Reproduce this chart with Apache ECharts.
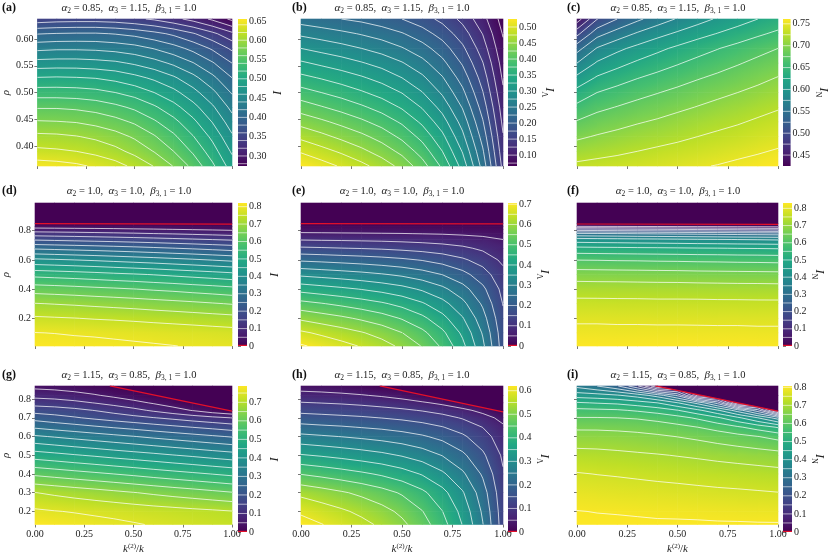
<!DOCTYPE html>
<html><head><meta charset="utf-8">
<script src="https://cdn.jsdelivr.net/npm/echarts@6/dist/echarts.min.js"></script>
<style>html,body{margin:0;padding:0;background:#fff}#c{width:830px;height:556px}</style>
</head><body><div id="c"></div>
<script>
// ---------- data ----------
const kFrac = [0, 0.1, 0.2, 0.3, 0.4, 0.5, 0.6, 0.7, 0.8, 0.9, 1.0];
const rhoTop = [0.3625, 0.39, 0.4175, 0.445, 0.4725, 0.5, 0.5275, 0.555, 0.5825, 0.61, 0.6375];
const rhoMid = [0.01, 0.1, 0.2, 0.3, 0.4, 0.5, 0.6, 0.68, 0.74, 0.78, 0.81, 0.83, 0.85, 0.99];
const rhoBot = [0.13, 0.2, 0.3, 0.4, 0.5, 0.6, 0.65, 0.7, 0.74, 0.78, 0.82, 0.87];

const IA = [
[0.650,0.648,0.644,0.637,0.628,0.615,0.599,0.579,0.554,0.524,0.490],
[0.625,0.623,0.620,0.614,0.606,0.594,0.579,0.560,0.537,0.509,0.477],
[0.605,0.604,0.601,0.596,0.588,0.577,0.562,0.544,0.521,0.495,0.463],
[0.582,0.581,0.579,0.574,0.567,0.557,0.543,0.526,0.505,0.479,0.449],
[0.558,0.558,0.556,0.552,0.545,0.536,0.523,0.507,0.487,0.463,0.434],
[0.530,0.530,0.529,0.526,0.520,0.512,0.500,0.486,0.467,0.445,0.418],
[0.501,0.502,0.501,0.499,0.494,0.486,0.476,0.463,0.446,0.425,0.400],
[0.468,0.469,0.469,0.467,0.464,0.457,0.448,0.436,0.421,0.402,0.380],
[0.435,0.437,0.437,0.436,0.433,0.428,0.419,0.408,0.394,0.377,0.356],
[0.399,0.401,0.402,0.402,0.399,0.394,0.386,0.376,0.362,0.345,0.325],
[0.347,0.350,0.351,0.351,0.349,0.344,0.337,0.326,0.313,0.296,0.275]];
const IB = [
[0.525,0.511,0.497,0.482,0.464,0.442,0.411,0.370,0.315,0.240,0.142],
[0.497,0.484,0.471,0.456,0.439,0.418,0.389,0.350,0.298,0.228,0.134],
[0.469,0.457,0.444,0.431,0.415,0.394,0.367,0.331,0.281,0.215,0.127],
[0.441,0.430,0.418,0.405,0.390,0.371,0.345,0.311,0.265,0.202,0.119],
[0.413,0.402,0.391,0.379,0.365,0.347,0.323,0.291,0.248,0.189,0.112],
[0.385,0.375,0.365,0.353,0.340,0.324,0.301,0.271,0.231,0.176,0.104],
[0.357,0.348,0.338,0.328,0.316,0.300,0.280,0.252,0.214,0.164,0.096],
[0.329,0.320,0.312,0.302,0.291,0.277,0.258,0.232,0.197,0.151,0.089],
[0.300,0.292,0.284,0.275,0.265,0.252,0.235,0.212,0.180,0.137,0.081],
[0.270,0.263,0.256,0.248,0.239,0.227,0.211,0.190,0.162,0.124,0.073],
[0.238,0.232,0.225,0.219,0.210,0.200,0.186,0.168,0.143,0.109,0.064]];
const IC = [
[0.730,0.733,0.735,0.738,0.741,0.744,0.748,0.751,0.755,0.758,0.762],
[0.713,0.717,0.721,0.725,0.729,0.733,0.736,0.740,0.744,0.748,0.752],
[0.696,0.702,0.707,0.712,0.716,0.720,0.725,0.729,0.733,0.738,0.742],
[0.677,0.686,0.692,0.698,0.703,0.709,0.714,0.719,0.723,0.728,0.733],
[0.656,0.669,0.676,0.683,0.689,0.695,0.701,0.707,0.712,0.718,0.723],
[0.634,0.650,0.659,0.667,0.674,0.681,0.688,0.694,0.700,0.706,0.712],
[0.606,0.628,0.639,0.649,0.657,0.665,0.673,0.680,0.687,0.694,0.701],
[0.575,0.603,0.617,0.629,0.639,0.648,0.657,0.665,0.673,0.681,0.688],
[0.540,0.577,0.594,0.607,0.619,0.630,0.640,0.649,0.658,0.667,0.675],
[0.493,0.541,0.561,0.578,0.592,0.604,0.616,0.626,0.636,0.646,0.655],
[0.436,0.499,0.525,0.545,0.562,0.577,0.590,0.603,0.614,0.625,0.635]];
const ID = [
[0.820,0.818,0.815,0.813,0.810,0.807,0.804,0.801,0.797,0.794,0.790],
[0.801,0.799,0.796,0.794,0.791,0.788,0.785,0.781,0.778,0.774,0.770],
[0.757,0.754,0.751,0.747,0.744,0.740,0.735,0.731,0.726,0.721,0.716],
[0.702,0.698,0.694,0.689,0.684,0.679,0.673,0.667,0.661,0.654,0.647],
[0.627,0.623,0.618,0.612,0.607,0.601,0.594,0.588,0.580,0.573,0.565],
[0.534,0.529,0.524,0.518,0.511,0.505,0.498,0.490,0.482,0.474,0.465],
[0.411,0.406,0.400,0.394,0.387,0.380,0.373,0.365,0.357,0.348,0.339],
[0.292,0.287,0.282,0.277,0.271,0.265,0.258,0.251,0.244,0.236,0.228],
[0.193,0.189,0.185,0.181,0.177,0.172,0.167,0.161,0.155,0.149,0.143],
[0.124,0.121,0.118,0.114,0.110,0.106,0.101,0.097,0.092,0.087,0.081],
[0.065,0.063,0.061,0.059,0.057,0.054,0.052,0.049,0.046,0.043,0.040],
[0.029,0.028,0.027,0.027,0.026,0.025,0.024,0.023,0.021,0.020,0.019],
[0,0,0,0,0,0,0,0,0,0,0],
[0,0,0,0,0,0,0,0,0,0,0]];
const IE = [
[0.706,0.687,0.667,0.646,0.621,0.589,0.547,0.491,0.414,0.311,0.175],
[0.659,0.641,0.623,0.604,0.581,0.551,0.513,0.461,0.390,0.295,0.170],
[0.591,0.575,0.560,0.542,0.522,0.496,0.462,0.416,0.354,0.270,0.160],
[0.516,0.503,0.489,0.474,0.457,0.435,0.406,0.367,0.314,0.242,0.148],
[0.432,0.421,0.410,0.398,0.384,0.367,0.343,0.312,0.269,0.211,0.135],
[0.340,0.332,0.324,0.315,0.304,0.291,0.273,0.249,0.216,0.173,0.115],
[0.242,0.237,0.231,0.225,0.218,0.209,0.197,0.180,0.158,0.129,0.090],
[0.158,0.155,0.151,0.148,0.144,0.138,0.131,0.122,0.109,0.091,0.068],
[0.096,0.094,0.093,0.091,0.089,0.086,0.082,0.077,0.071,0.062,0.050],
[0.056,0.055,0.054,0.053,0.052,0.051,0.049,0.047,0.043,0.039,0.033],
[0.031,0.031,0.030,0.030,0.029,0.029,0.028,0.027,0.025,0.023,0.020],
[0.015,0.014,0.014,0.014,0.014,0.013,0.013,0.013,0.012,0.011,0.009],
[0,0,0,0,0,0,0,0,0,0,0],
[0,0,0,0,0,0,0,0,0,0,0]];
const IF = [
[0.830,0.830,0.829,0.829,0.829,0.829,0.828,0.828,0.828,0.827,0.827],
[0.813,0.813,0.812,0.812,0.812,0.812,0.811,0.811,0.811,0.810,0.810],
[0.792,0.792,0.791,0.791,0.790,0.790,0.790,0.789,0.789,0.788,0.788],
[0.764,0.764,0.763,0.763,0.762,0.762,0.762,0.761,0.761,0.760,0.760],
[0.727,0.726,0.726,0.725,0.724,0.724,0.723,0.722,0.721,0.721,0.720],
[0.676,0.675,0.674,0.673,0.672,0.671,0.669,0.668,0.667,0.666,0.665],
[0.599,0.598,0.596,0.595,0.593,0.592,0.590,0.589,0.587,0.586,0.584],
[0.512,0.510,0.509,0.507,0.506,0.504,0.502,0.501,0.499,0.498,0.496],
[0.420,0.417,0.415,0.412,0.410,0.407,0.404,0.402,0.399,0.397,0.394],
[0.308,0.305,0.302,0.298,0.295,0.292,0.289,0.286,0.282,0.279,0.276],
[0.161,0.158,0.154,0.151,0.148,0.145,0.141,0.138,0.135,0.131,0.128],
[0.050,0.048,0.047,0.045,0.044,0.042,0.040,0.039,0.037,0.036,0.034],
[0,0,0,0,0,0,0,0,0,0,0],
[0,0,0,0,0,0,0,0,0,0,0]];
const IG = [
[0.788,0.781,0.774,0.768,0.761,0.754,0.747,0.740,0.734,0.727,0.720],
[0.758,0.752,0.747,0.741,0.736,0.730,0.724,0.719,0.713,0.708,0.702],
[0.701,0.691,0.681,0.672,0.662,0.652,0.642,0.632,0.623,0.613,0.603],
[0.590,0.580,0.570,0.560,0.550,0.540,0.529,0.519,0.509,0.499,0.489],
[0.475,0.465,0.454,0.444,0.433,0.423,0.413,0.402,0.392,0.381,0.371],
[0.357,0.346,0.335,0.324,0.313,0.302,0.290,0.279,0.268,0.257,0.246],
[0.293,0.281,0.270,0.258,0.246,0.235,0.223,0.211,0.199,0.188,0.176],
[0.231,0.218,0.205,0.191,0.178,0.165,0.152,0.139,0.125,0.112,0.099],
[0.179,0.173,0.163,0.149,0.132,0.114,0.093,0.071,0.047,0.021,0],
[0.129,0.123,0.113,0.099,0.083,0.065,0.045,0.023,0,0,0],
[0.083,0.078,0.068,0.055,0.039,0.022,0.003,0,0,0,0],
[0.035,0.030,0.022,0.011,0,0,0,0,0,0,0]];
const IH = [
[0.620,0.602,0.584,0.564,0.541,0.511,0.472,0.419,0.348,0.252,0.125],
[0.592,0.575,0.558,0.539,0.517,0.489,0.452,0.401,0.334,0.242,0.122],
[0.537,0.522,0.506,0.489,0.469,0.444,0.411,0.366,0.305,0.223,0.115],
[0.448,0.436,0.423,0.409,0.393,0.373,0.346,0.309,0.259,0.193,0.105],
[0.354,0.345,0.335,0.324,0.312,0.296,0.276,0.248,0.210,0.159,0.092],
[0.263,0.256,0.249,0.241,0.232,0.221,0.206,0.186,0.158,0.121,0.072],
[0.216,0.210,0.205,0.198,0.191,0.181,0.169,0.152,0.129,0.099,0.058],
[0.171,0.166,0.161,0.156,0.149,0.141,0.130,0.116,0.096,0.070,0.035],
[0.136,0.132,0.128,0.123,0.116,0.108,0.097,0.083,0.063,0.035,0],
[0.103,0.099,0.095,0.089,0.081,0.071,0.057,0.039,0.012,0,0],
[0.066,0.063,0.059,0.053,0.044,0.031,0.008,0,0,0,0],
[0.030,0.027,0.021,0.012,0,0,0,0,0,0,0]];
const II = [
[0.807,0.807,0.806,0.806,0.805,0.805,0.805,0.804,0.804,0.803,0.803],
[0.801,0.799,0.798,0.796,0.794,0.793,0.791,0.789,0.787,0.786,0.784],
[0.779,0.776,0.773,0.771,0.768,0.765,0.762,0.759,0.757,0.754,0.751],
[0.753,0.749,0.746,0.742,0.738,0.735,0.731,0.727,0.723,0.720,0.716],
[0.717,0.715,0.711,0.707,0.703,0.698,0.693,0.687,0.682,0.676,0.670],
[0.671,0.670,0.668,0.663,0.657,0.649,0.640,0.628,0.615,0.601,0.584],
[0.641,0.641,0.638,0.634,0.626,0.615,0.600,0.581,0.557,0.529,0.495],
[0.602,0.602,0.600,0.595,0.584,0.567,0.542,0.507,0.460,0.400,0.325],
[0.563,0.560,0.556,0.544,0.528,0.502,0.462,0.406,0.326,0.220,0],
[0.505,0.497,0.490,0.473,0.450,0.403,0.334,0.229,0,0,0],
[0.427,0.420,0.405,0.378,0.326,0.241,0.034,0,0,0,0],
[0.335,0.300,0.255,0.157,0,0,0,0,0,0,0]];

// contour levels
const levA = [0.28,0.30,0.32,0.34,0.36,0.38,0.40,0.42,0.44,0.46,0.48,0.50,0.52,0.54,0.56,0.58,0.60,0.62,0.64];
const levB = [0.075,0.1,0.125,0.15,0.175,0.2,0.225,0.25,0.275,0.3,0.325,0.35,0.375,0.4,0.425,0.45,0.475,0.5];
const levC = [0.45,0.475,0.5,0.525,0.55,0.575,0.6,0.625,0.65,0.675,0.7,0.725,0.75];
const lev080 = [0.05,0.1,0.15,0.2,0.25,0.3,0.35,0.4,0.45,0.5,0.55,0.6,0.65,0.7,0.75,0.8];
const lev070 = [0.05,0.1,0.15,0.2,0.25,0.3,0.35,0.4,0.45,0.5,0.55,0.6,0.65,0.7];
const lev075 = [0.05,0.1,0.15,0.2,0.25,0.3,0.35,0.4,0.45,0.5,0.55,0.6,0.65,0.7,0.75];
const lev060 = [0.05,0.1,0.15,0.2,0.25,0.3,0.35,0.4,0.45,0.5,0.55,0.6];

// critical (zero) boundary lines
const critD = {x: [0, 1], rho: [0.849, 0.845]};
const critE = {x: [0, 1], rho: [0.848, 0.847]};
const critF = {x: [0, 1], rho: [0.846, 0.844]};
const critG = {x: [0.38, 1], rho: [0.871, 0.736]};
const critH = {x: [0.39, 1], rho: [0.871, 0.732]};
const critI = {x: [0.39, 1], rho: [0.871, 0.736]};

// axis ticks
const rhoTicksTop = [0.40, 0.45, 0.50, 0.55, 0.60];
const rhoTicksMid = [0.2, 0.4, 0.6, 0.8];
const rhoTicksBot = [0.2, 0.3, 0.4, 0.5, 0.6, 0.7, 0.8];
const rhoRange = [[0.3625, 0.6375], [0.01, 0.99], [0.13, 0.87]];
const cbTicksA = [0.30,0.35,0.40,0.45,0.50,0.55,0.60,0.65];
const cbTicksB = [0.10,0.15,0.20,0.25,0.30,0.35,0.40,0.45,0.50];
const cbTicksC = [0.45,0.50,0.55,0.60,0.65,0.70,0.75];
const cbTicks08 = [0,0.1,0.2,0.3,0.4,0.5,0.6,0.7,0.8];
const cbTicks07 = [0,0.1,0.2,0.3,0.4,0.5,0.6,0.7];
const cbTicks06 = [0,0.1,0.2,0.3,0.4,0.5,0.6];

const titles = [
  ['0.85', '1.15', '1.0'],
  ['1.0', '1.0', '1.0'],
  ['1.15', '0.85', '1.0']];
const panelLetters = ['a','b','c','d','e','f','g','h','i'];

// ---------- layout ----------
const SERIF = "'Liberation Serif', 'DejaVu Serif', serif";
const viridis = ['#440154','#482475','#414487','#355f8d','#2a788e','#21918c','#22a884','#44bf70','#7ad151','#bddf26','#fde725'];
const colLeft = [31, 301, 577], colW = [201, 202, 201];
const cbLeft = [238, 508, 783], cbW = 9;
const rowTop = [19, 203, 386], rowH = [147, 143, 146];
const titleX = [129, 402, 678], titleY = [8, 191, 375];
const labelX = [2, 292, 567];
const cbNameGap = [17, 18, 17];

const panels = [
  {g: IA, rho: rhoTop, lev: levA, cb: [0.274, 0.655], cbt: cbTicksA, dec: 2, sub: '', crit: null},
  {g: IB, rho: rhoTop, lev: levB, cb: [0.066, 0.525], cbt: cbTicksB, dec: 2, sub: 'Λ', crit: null},
  {g: IC, rho: rhoTop, lev: levC, cb: [0.425, 0.761], cbt: cbTicksC, dec: 2, sub: 'N', crit: null},
  {g: ID, rho: rhoMid, lev: lev080, cb: [0, 0.821], cbt: cbTicks08, dec: 1, sub: '', crit: critD},
  {g: IE, rho: rhoMid, lev: lev070, cb: [0, 0.706], cbt: cbTicks07, dec: 1, sub: 'Λ', crit: critE},
  {g: IF, rho: rhoMid, lev: lev080, cb: [0, 0.831], cbt: cbTicks08, dec: 1, sub: 'N', crit: critF},
  {g: IG, rho: rhoBot, lev: lev075, cb: [0, 0.788], cbt: cbTicks07, dec: 1, sub: '', crit: critG},
  {g: IH, rho: rhoBot, lev: lev060, cb: [0, 0.62], cbt: cbTicks06, dec: 1, sub: 'Λ', crit: critH},
  {g: II, rho: rhoBot, lev: lev080, cb: [0, 0.807], cbt: cbTicks08, dec: 1, sub: 'N', crit: critI}];
const rhoTicks = [rhoTicksTop, rhoTicksMid, rhoTicksBot];

// ---------- helpers ----------
function quadData(xs, ys, grid) {
  const out = [];
  for (let j = 0; j < ys.length - 1; j++) for (let i = 0; i < xs.length - 1; i++) {
    out.push([xs[i], ys[j], xs[i + 1], ys[j + 1], grid[j][i], grid[j][i + 1], grid[j + 1][i], grid[j + 1][i + 1]]);
  }
  return out;
}
function contourSegments(xs, ys, grid, level) {
  const segs = [];
  for (let j = 0; j < ys.length - 1; j++) for (let i = 0; i < xs.length - 1; i++) {
    const v00 = grid[j][i], v10 = grid[j][i + 1], v01 = grid[j + 1][i], v11 = grid[j + 1][i + 1];
    const pts = [];
    const cross = (va, vb, xa, ya, xb, yb) => {
      if ((va >= level) !== (vb >= level)) {
        const t = (level - va) / (vb - va);
        pts.push([xa + t * (xb - xa), ya + t * (yb - ya)]);
      } else pts.push(null);
    };
    cross(v00, v10, xs[i], ys[j], xs[i + 1], ys[j]);
    cross(v10, v11, xs[i + 1], ys[j], xs[i + 1], ys[j + 1]);
    cross(v11, v01, xs[i + 1], ys[j + 1], xs[i], ys[j + 1]);
    cross(v01, v00, xs[i], ys[j + 1], xs[i], ys[j]);
    const got = pts.filter(p => p);
    if (got.length === 2) segs.push(got);
    else if (got.length === 4) {
      const c = (v00 + v10 + v01 + v11) / 4;
      if ((c >= level) === (v00 >= level)) { segs.push([pts[0], pts[1]]); segs.push([pts[2], pts[3]]); }
      else { segs.push([pts[0], pts[3]]); segs.push([pts[1], pts[2]]); }
    }
  }
  return segs;
}
function contourData(xs, ys, grid, levels) {
  const out = [];
  levels.forEach(l => contourSegments(xs, ys, grid, l).forEach(s => { out.push(s[0], s[1], [NaN, NaN]); }));
  return out;
}
function makeQuadItem(range) {
  const col = v => echarts.color.lerp(Math.min(1, Math.max(0, (v - range[0]) / (range[1] - range[0]))), viridis);
  return (params, api) => {
    const pA = api.coord([api.value(0), api.value(3)]);
    const pB = api.coord([api.value(2), api.value(1)]);
    const x = pA[0], y = pA[1], w = pB[0] - pA[0], h = pB[1] - pA[1];
    const v00 = api.value(4), v10 = api.value(5), v01 = api.value(6), v11 = api.value(7);
    const c = (v00 + v10 + v01 + v11) / 4;
    const gx = (((v10 + v11) - (v00 + v01)) / 2) / w;
    const gy = (((v00 + v10) - (v01 + v11)) / 2) / h;
    const g = Math.hypot(gx, gy);
    let fill;
    if (g < 1e-12) fill = col(c);
    else {
      const ux = gx / g, uy = gy / g;
      const L = (Math.abs(ux) * w + Math.abs(uy) * h) / 2;
      const cx = x + w / 2, cy = y + h / 2;
      fill = new echarts.graphic.LinearGradient(cx - ux * L, cy - uy * L, cx + ux * L, cy + uy * L, [
        {offset: 0, color: col(c - g * L)}, {offset: 0.5, color: col(c)}, {offset: 1, color: col(c + g * L)}], true);
    }
    return {type: 'rect', shape: {x: x - 0.3, y: y - 0.3, width: w + 0.6, height: h + 0.6}, style: {fill}};
  };
}
function titleText(a2, a3, b) {
  return '{g|α}{s|2} = ' + a2 + ',  {g|α}{s|3} = ' + a3 + ',  {g|β}{s|3, 1} = ' + b;
}

// ---------- build option ----------
const grid = [], xAxis = [], yAxis = [], series = [], graphic = [];
panels.forEach((P, p) => {
  const r = Math.floor(p / 3), c = p % 3;
  const gi = 2 * p;
  grid.push({left: colLeft[c], top: rowTop[r], width: colW[c], height: rowH[r]});
  grid.push({left: cbLeft[c], top: rowTop[r], width: cbW, height: rowH[r]});
  xAxis.push({
    type: 'value', gridIndex: gi, min: 0, max: 1, interval: 0.25,
    axisLine: {show: false}, splitLine: {show: false},
    axisTick: {show: true, length: 3, lineStyle: {color: '#555', width: 0.8}},
    axisLabel: {show: r === 2, formatter: v => v.toFixed(2), fontFamily: SERIF, fontSize: 10, color: '#222', margin: 5},
    name: r === 2 ? '{k|k}{p|(2)}/{k|k}' : '', nameLocation: 'middle', nameGap: 18,
    nameTextStyle: {fontFamily: SERIF, fontSize: 11, color: '#222',
      rich: {k: {fontFamily: SERIF, fontStyle: 'italic', fontSize: 11, lineHeight: 14, color: '#222'},
             p: {fontFamily: SERIF, fontSize: 7, verticalAlign: 'top', lineHeight: 14, color: '#222'}}}
  });
  yAxis.push({
    type: 'value', gridIndex: gi, min: rhoRange[r][0], max: rhoRange[r][1],
    axisLine: {show: false}, splitLine: {show: false},
    axisTick: {show: true, length: 3, customValues: rhoTicks[r], lineStyle: {color: '#555', width: 0.8}},
    axisLabel: {show: c === 0, customValues: rhoTicks[r], formatter: v => v.toFixed(r === 0 ? 2 : 1),
                fontFamily: SERIF, fontSize: 10, color: '#222', margin: 4},
    name: c === 0 ? 'ρ' : '', nameLocation: 'middle', nameGap: 23,
    nameTextStyle: {fontFamily: SERIF, fontStyle: 'italic', fontSize: 11, color: '#222'}
  });
  xAxis.push({type: 'value', gridIndex: gi + 1, min: 0, max: 1, show: false});
  yAxis.push({
    type: 'value', gridIndex: gi + 1, position: 'right', min: P.cb[0], max: P.cb[1],
    axisLine: {show: false}, splitLine: {show: false},
    axisTick: {show: true, length: 3, customValues: P.cbt, lineStyle: {color: '#555', width: 0.8}},
    axisLabel: {customValues: P.cbt, formatter: v => (v === 0 ? '0' : v.toFixed(P.dec)),
                fontFamily: SERIF, fontSize: 10, color: '#222', margin: 2},
    name: P.sub ? '{i|I}{s|' + P.sub + '}' : '{i|I}', nameLocation: 'middle', nameRotate: -90, nameGap: cbNameGap[c],
    nameTextStyle: {rich: {i: {fontFamily: SERIF, fontStyle: 'italic', fontSize: 12, lineHeight: 18, color: '#222'},
                           s: {fontFamily: SERIF, fontSize: 8, verticalAlign: 'bottom', lineHeight: 18, color: '#222'}}}
  });
  // shaded field
  series.push({type: 'custom', xAxisIndex: gi, yAxisIndex: gi, renderItem: makeQuadItem(P.cb), silent: true, z: 1,
               encode: {x: [0, 2], y: [1, 3]}, data: quadData(kFrac, P.rho, P.g)});
  // contour lines
  series.push({type: 'line', xAxisIndex: gi, yAxisIndex: gi, data: contourData(kFrac, P.rho, P.g, P.lev),
               symbol: 'none', showSymbol: false, connectNulls: false, silent: true, z: 3,
               lineStyle: {color: '#ffffff', width: 0.8, opacity: 0.9}});
  // zero region and critical line
  if (P.crit) {
    series.push({type: 'line', xAxisIndex: gi, yAxisIndex: gi, data: P.crit.x.map((x, k) => [x, P.crit.rho[k]]),
                 symbol: 'none', silent: true, z: 4, lineStyle: {color: '#e3102a', width: 1.2},
                 areaStyle: {origin: 'end', color: '#440154', opacity: 1}});
  }
  // colour bar
  const lev = P.lev, hasCrit = !!P.crit;
  series.push({type: 'custom', xAxisIndex: gi + 1, yAxisIndex: gi + 1, silent: true, z: 2,
    data: [[0, P.cb[0], P.cb[1]]], encode: {x: 0, y: 1},
    renderItem: (params, api) => {
      const a = api.coord([0, api.value(1)]);
      const b = api.coord([1, api.value(2)]);
      const children = [{type: 'rect', shape: {x: a[0], y: b[1], width: b[0] - a[0], height: a[1] - b[1]},
        style: {fill: new echarts.graphic.LinearGradient(0, 1, 0, 0, viridis.map((col, k) => ({offset: k / (viridis.length - 1), color: col})))}}];
      lev.forEach(l => {
        const y = api.coord([0, l])[1];
        children.push({type: 'line', shape: {x1: a[0], y1: y, x2: b[0], y2: y}, style: {stroke: '#ffffff', lineWidth: 0.8, opacity: 0.75}});
      });
      if (hasCrit) children.push({type: 'line', shape: {x1: a[0], y1: a[1] - 0.6, x2: b[0], y2: a[1] - 0.6}, style: {stroke: '#e3102a', lineWidth: 1.2}});
      return {type: 'group', children};
    }});
  // title and letter
  graphic.push({type: 'text', x: titleX[c], y: titleY[r], silent: true,
    style: {text: titleText(titles[r][0], titles[r][1], titles[r][2]), fontFamily: SERIF, fontSize: 10.5, fill: '#222',
            align: 'center', verticalAlign: 'middle', lineHeight: 15,
            rich: {g: {fontFamily: SERIF, fontStyle: 'italic', fontSize: 11, lineHeight: 15, fill: '#222'},
                   s: {fontFamily: SERIF, fontSize: 7.5, verticalAlign: 'bottom', lineHeight: 15, fill: '#222'}}}});
  graphic.push({type: 'text', x: labelX[c], y: titleY[r], silent: true,
    style: {text: '(' + panelLetters[p] + ')', fontFamily: SERIF, fontWeight: 'bold', fontSize: 12, fill: '#111',
            align: 'left', verticalAlign: 'middle'}});
});

const chart = echarts.init(document.getElementById('c'));
chart.setOption({animation: false, backgroundColor: '#ffffff', grid, xAxis, yAxis, series, graphic});
</script></body></html>
